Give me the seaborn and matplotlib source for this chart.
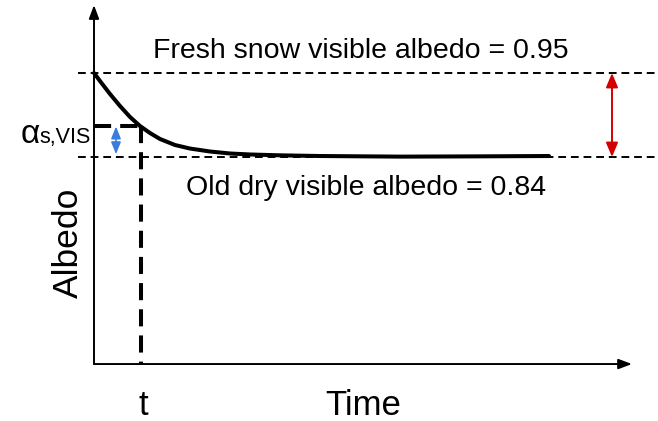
import matplotlib
matplotlib.use("Agg")
import matplotlib.pyplot as plt
import pandas as pd
import seaborn as sns

# Visible snow albedo decaying with snow age
time_days = [0.0, 0.12, 0.32, 0.52, 0.72, 0.92, 1.12, 1.32, 1.62, 1.92,
             2.32, 2.72, 3.12, 3.72, 4.52, 6.12, 7.52, 9.10]
albedo_vis = [0.950, 0.9395, 0.9225, 0.9068, 0.8924, 0.8806, 0.8714, 0.8636,
              0.8557, 0.8511, 0.8472, 0.8446, 0.8433, 0.8422, 0.8413, 0.8405,
              0.8408, 0.8413]

fresh_albedo = 0.95
old_albedo = 0.84
t_mark = 0.94
alpha_mark = 0.880

fresh_label = "Fresh snow visible albedo = 0.95"
old_label = "Old dry visible albedo = 0.84"
x_label = "Time"
y_label = "Albedo"
t_label = "t"

sns.set_theme(style="white")
plt.rcParams["font.family"] = ["Liberation Sans", "DejaVu Sans"]

fig = plt.figure(figsize=(6.58, 4.21), dpi=100)
ax = fig.add_axes([0, 0, 1, 1])
ax.set_xlim(-1.88, 11.28)
ax.set_ylim(0.4943, 1.0456)
ax.set_axis_off()

axis_floor = 0.5689
axis_top = 1.039
axis_right = 10.76

# Decay curve
df = pd.DataFrame({"Time": time_days, "Albedo": albedo_vis})
sns.lineplot(data=df, x="Time", y="Albedo", ax=ax, color="black",
             linewidth=2.9, sort=False, estimator=None)

# Hand-drawn style axes with arrow heads
axis_arrow = dict(arrowstyle="-|>,head_length=0.8,head_width=0.3",
                  mutation_scale=10, lw=1.4, color="black",
                  shrinkA=0, shrinkB=0)
ax.annotate("", xy=(0, axis_top), xytext=(0, axis_floor), arrowprops=axis_arrow)
ax.annotate("", xy=(axis_right, axis_floor), xytext=(0, axis_floor),
            arrowprops=axis_arrow)

# Reference albedo levels
thin_dash = (0, (4.0, 2.5))
for level in (fresh_albedo, old_albedo):
    ax.plot([-0.32, 11.28], [level, level], color="black", lw=1.4,
            ls=thin_dash)

# Albedo at time t
thick_dash = (0, (4.25, 2.25))
ax.plot([0, t_mark], [alpha_mark, alpha_mark], color="black", lw=2.9,
        ls=thick_dash)
ax.plot([t_mark, t_mark], [alpha_mark, axis_floor], color="black", lw=2.9,
        ls=thick_dash)

# Range of albedo decay
ax.annotate("", xy=(10.36, old_albedo), xytext=(10.36, fresh_albedo),
            arrowprops=dict(arrowstyle="<|-|>,head_length=0.86,head_width=0.36",
                            mutation_scale=10, lw=1.4, color="#d40000",
                            shrinkA=0, shrinkB=0))
ax.annotate("", xy=(0.44, old_albedo), xytext=(0.44, alpha_mark),
            arrowprops=dict(arrowstyle="<|-|>,head_length=0.72,head_width=0.29",
                            mutation_scale=10, lw=1.2, color="#3b7ddd",
                            shrinkA=0, shrinkB=2))

# Labels
ax.text(5.34, 0.9696, fresh_label, ha="center", va="baseline", fontsize=20.5,
        color="black")
ax.text(5.44, 0.7902, old_label, ha="center", va="baseline", fontsize=20.5,
        color="black")
ax.text(5.38, 0.5021, x_label, ha="center", va="baseline", fontsize=25,
        color="black")
ax.text(0.98, 0.5021, t_label, ha="center", va="baseline", fontsize=25,
        color="black")
ax.text(-0.52, 0.7274, y_label, ha="center", va="center", rotation=90,
        fontsize=25.5, color="black")
ax.text(-0.06, 0.8583, "s,VIS", ha="right", va="baseline", fontsize=15.5,
        color="black")
ax.text(-1.08, 0.8583, "α", ha="right", va="baseline", fontsize=24,
        color="black")

fig.savefig("out.png", dpi=100)
